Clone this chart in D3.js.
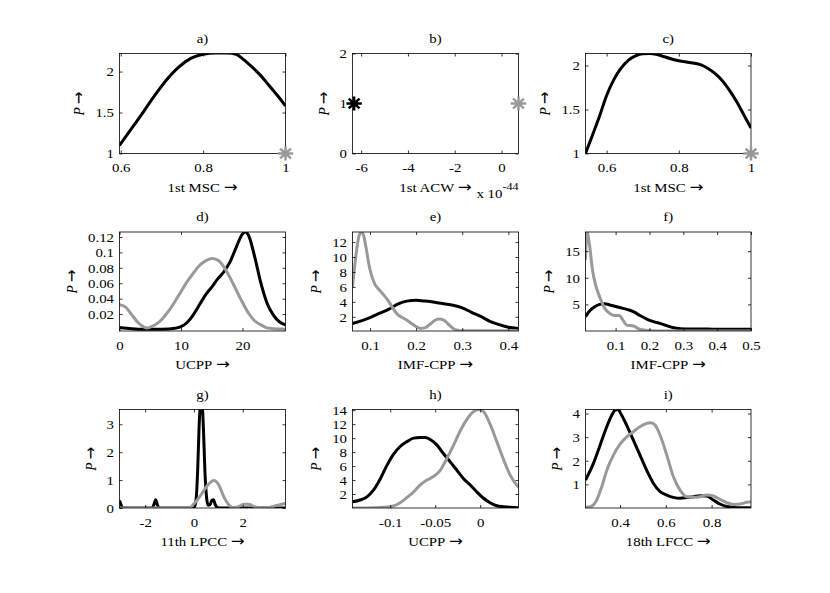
<!DOCTYPE html>
<html>
<head>
<meta charset="utf-8">
<script src="https://cdn.jsdelivr.net/npm/d3@7"></script>
<style>
  body { margin: 0; background: #fff; }
  svg { display: block; font-family: "Liberation Serif", "Times New Roman", serif; }
</style>
</head>
<body>
<svg id="chart" width="830" height="593"></svg>
<script>
// ---- data ----
const titles = ["a)", "b)", "c)", "d)", "e)", "f)", "g)", "h)", "i)"];
const xLabels = ["1st MSC", "1st ACW", "1st MSC", "UCPP", "IMF-CPP", "IMF-CPP", "11th LPCC", "UCPP", "18th LFCC"];

const xDomains = [[0.597, 1], [-6.37, 0.727], [0.5415, 1], [0, 27], [0.062, 0.422],
                  [0.011, 0.5], [-3.05, 3.75], [-0.142, 0.0426], [0.249, 0.972]];
const yDomains = [[1, 2.22], [0, 2], [1, 2.137], [-0.002, 0.1265], [0.1, 13.35],
                  [0, 18.6], [0, 3.53], [0, 14.1], [0, 4.17]];

const xTicks = [[0.6, 0.8, 1], [-6, -4, -2, 0], [0.6, 0.8, 1], [0, 10, 20], [0.1, 0.2, 0.3, 0.4],
                [0.1, 0.2, 0.3, 0.4, 0.5], [-2, 0, 2], [-0.1, -0.05, 0], [0.4, 0.6, 0.8]];
const yTicks = [[1, 1.5, 2], [0, 1, 2], [1, 1.5, 2], [0.02, 0.04, 0.06, 0.08, 0.1, 0.12],
                [2, 4, 6, 8, 10, 12], [5, 10, 15], [0, 1, 2, 3], [2, 4, 6, 8, 10, 12, 14], [1, 2, 3, 4]];

const bExponent = "-44";

const aBlack = [[0.597, 1.10], [0.62, 1.26], [0.65, 1.47], [0.68, 1.69], [0.71, 1.89], [0.74, 2.05],
  [0.77, 2.16], [0.80, 2.21], [0.83, 2.225], [0.86, 2.225], [0.88, 2.21], [0.90, 2.14], [0.92, 2.05],
  [0.94, 1.95], [0.96, 1.83], [0.98, 1.71], [1.0, 1.58]];
const aStarGray = [[1, 1]];

const bStarBlack = [[-6.3, 1]];
const bStarGray = [[0.727, 1]];

const cBlack = [[0.5415, 1.0], [0.56, 1.2], [0.58, 1.42], [0.60, 1.66], [0.62, 1.84], [0.64, 1.97],
  [0.66, 2.06], [0.68, 2.11], [0.70, 2.135], [0.72, 2.137], [0.74, 2.125], [0.76, 2.10], [0.78, 2.075],
  [0.80, 2.055], [0.83, 2.035], [0.86, 2.01], [0.88, 1.97], [0.90, 1.91], [0.92, 1.83], [0.94, 1.72],
  [0.96, 1.59], [0.98, 1.44], [1.0, 1.29]];
const cStarGray = [[1, 1]];

const dBlack = [[0, 0.0025], [2, 0.001], [4, 0.0003], [8, 0.0005], [9, 0.0015], [10, 0.0036], [11, 0.009],
  [12, 0.019], [13, 0.032], [14, 0.045], [15, 0.055], [16, 0.066], [17, 0.075], [18, 0.088], [19, 0.107],
  [20, 0.124], [20.5, 0.1265], [21, 0.122], [22, 0.094], [23, 0.060], [24, 0.034], [25, 0.019],
  [26, 0.010], [27, 0.006]];
const dGray = [[0, 0.032], [1, 0.029], [2, 0.019], [3, 0.009], [4, 0.003], [4.5, 0.002], [5, 0.003],
  [6, 0.007], [7, 0.014], [8, 0.024], [9, 0.036], [10, 0.049], [11, 0.062], [12, 0.073], [13, 0.083],
  [14, 0.089], [15, 0.092], [16, 0.090], [17, 0.081], [18, 0.067], [19, 0.051], [20, 0.035], [21, 0.021],
  [22, 0.011], [23, 0.006], [24, 0.002], [25, 0.001], [26.5, 0.0005], [27, 0]];

const eBlack = [[0.062, 1.1], [0.1, 1.9], [0.12, 2.45], [0.14, 3.0], [0.16, 3.7], [0.18, 4.1], [0.2, 4.2],
  [0.22, 4.1], [0.24, 3.95], [0.26, 3.75], [0.28, 3.55], [0.3, 3.2], [0.32, 2.6], [0.34, 2.05],
  [0.36, 1.4], [0.38, 0.95], [0.40, 0.6], [0.422, 0.45]];
const eGray = [[0.062, 6.0], [0.07, 10.5], [0.076, 12.8], [0.081, 13.33], [0.086, 12.9], [0.09, 11.7],
  [0.1, 8.3], [0.11, 6.4], [0.12, 5.6], [0.13, 4.9], [0.14, 4.1], [0.15, 3.1], [0.16, 2.3], [0.17, 1.9],
  [0.18, 1.55], [0.19, 1.1], [0.2, 0.7], [0.21, 0.45], [0.22, 0.55], [0.23, 1.0], [0.24, 1.5], [0.25, 1.7],
  [0.26, 1.55], [0.27, 1.0], [0.28, 0.45], [0.29, 0.2], [0.3, 0.12], [0.422, 0.12]];

const fBlack = [[0.011, 2.7], [0.023, 3.75], [0.038, 4.56], [0.053, 5.0], [0.068, 5.1], [0.083, 4.9],
  [0.103, 4.56], [0.122, 4.25], [0.142, 3.9], [0.157, 3.5], [0.172, 2.9], [0.192, 2.25], [0.212, 1.75],
  [0.231, 1.44], [0.251, 1.0], [0.271, 0.62], [0.291, 0.44], [0.32, 0.37], [0.37, 0.37], [0.41, 0.31],
  [0.449, 0.31], [0.5, 0.31]];
const fGray = [[0.011, 13.4], [0.015, 18.6], [0.023, 16.1], [0.031, 11.75], [0.041, 8.6], [0.053, 6.4],
  [0.068, 4.25], [0.083, 3.3], [0.098, 2.9], [0.111, 2.9], [0.121, 2.1], [0.133, 1.1], [0.153, 0.94],
  [0.168, 0.4], [0.188, 0.12], [0.222, 0.02], [0.5, 0.02]];

const gBlack = [[-3.05, 0.27], [-3.0, 0.15], [-2.95, 0.04], [-2.9, 0], [-1.72, 0], [-1.64, 0.12],
  [-1.57, 0.3], [-1.5, 0.12], [-1.42, 0], [0.0, 0], [0.08, 0.25], [0.15, 1.3], [0.21, 2.9], [0.26, 3.6],
  [0.34, 3.6], [0.39, 2.8], [0.45, 1.3], [0.52, 0.35], [0.58, 0.1], [0.66, 0.12], [0.74, 0.28],
  [0.8, 0.3], [0.86, 0.15], [0.95, 0.02], [1.05, 0], [3.75, 0]];
const gGray = [[-3.05, 0], [-0.2, 0], [0, 0.15], [0.27, 0.45], [0.55, 0.81], [0.82, 0.99], [1.03, 0.81],
  [1.23, 0.39], [1.44, 0.1], [1.64, 0], [1.85, 0.06], [2.05, 0.13], [2.25, 0.13], [2.45, 0.06],
  [2.73, 0], [3.0, 0.01], [3.27, 0.06], [3.55, 0.13], [3.75, 0.16]];

const hBlack = [[-0.142, 0.9], [-0.1334, 1.14], [-0.126, 1.6], [-0.1185, 2.6], [-0.111, 4.2],
  [-0.1037, 6.1], [-0.0963, 7.7], [-0.089, 8.8], [-0.0815, 9.5], [-0.074, 10.0], [-0.0667, 10.1],
  [-0.061, 10.1], [-0.0556, 9.8], [-0.048, 9.0], [-0.041, 7.8], [-0.0333, 6.6], [-0.0259, 5.4],
  [-0.0185, 4.2], [-0.011, 3.3], [-0.0037, 2.3], [0.0037, 1.4], [0.011, 0.76], [0.0185, 0.33],
  [0.026, 0.19], [0.0333, 0.1], [0.0426, 0.05]];
const hGray = [[-0.142, 0], [-0.126, 0], [-0.1074, 0.1], [-0.0963, 0.3], [-0.089, 0.76], [-0.0815, 1.5],
  [-0.074, 2.3], [-0.0667, 3.3], [-0.0593, 4.0], [-0.052, 4.5], [-0.0444, 5.4], [-0.037, 7.1],
  [-0.0296, 9.0], [-0.022, 11.1], [-0.0148, 12.7], [-0.0074, 13.8], [-0.0019, 14.1], [0.0037, 13.8],
  [0.011, 12.0], [0.0185, 9.5], [0.026, 6.9], [0.0333, 4.7], [0.0426, 2.95]];

const iBlack = [[0.249, 1.18], [0.2836, 1.89], [0.3127, 2.66], [0.3418, 3.44], [0.3636, 3.93],
  [0.378, 4.14], [0.389, 4.17], [0.407, 3.93], [0.429, 3.5], [0.458, 2.87], [0.487, 2.24], [0.516, 1.6],
  [0.546, 1.04], [0.575, 0.69], [0.604, 0.55], [0.633, 0.45], [0.662, 0.41], [0.691, 0.44], [0.72, 0.48],
  [0.749, 0.52], [0.778, 0.51], [0.807, 0.34], [0.836, 0.17], [0.866, 0.06], [0.91, 0.01], [0.972, 0.01]];
const iGray = [[0.249, 0.03], [0.276, 0.08], [0.298, 0.34], [0.32, 0.9], [0.342, 1.6], [0.371, 2.24],
  [0.4, 2.7], [0.429, 3.01], [0.458, 3.23], [0.487, 3.44], [0.516, 3.58], [0.534, 3.61], [0.553, 3.51],
  [0.575, 3.08], [0.604, 2.24], [0.633, 1.32], [0.662, 0.76], [0.691, 0.48], [0.72, 0.45], [0.749, 0.48],
  [0.778, 0.55], [0.807, 0.51], [0.836, 0.37], [0.866, 0.23], [0.895, 0.15], [0.924, 0.17],
  [0.953, 0.24], [0.972, 0.27]];

const blackSeries = [aBlack, [], cBlack, dBlack, eBlack, fBlack, gBlack, hBlack, iBlack];
const graySeries = [[], [], [], dGray, eGray, fGray, gGray, hGray, iGray];
const blackStars = [[], bStarBlack, [], [], [], [], [], [], []];
const grayStars = [aStarGray, bStarGray, cStarGray, [], [], [], [], [], []];

// ---- layout ----
const colX = [[119.5, 285.5], [352.5, 518.5], [585.5, 751]];
const rowY = [[53.5, 153.5], [232, 331], [409.5, 508]];
const SX = 1.1;   // the reference glyphs are a little stretched horizontally
const FS = 13.5;
const BLACK = "#000", GRAY = "#999";
const ARROW = "\u2192";

const svg = d3.select("svg#chart");

function stext(parent, x, y, anchor) {
  return parent.append("text")
    .attr("transform", `translate(${x},${y}) scale(${SX},1)`)
    .attr("text-anchor", anchor)
    .attr("font-size", FS)
    .attr("fill", "#000");
}

function addArrow(t) {
  t.append("tspan").text(" ");
  t.append("tspan").attr("font-family", "DejaVu Sans").attr("font-size", 15).text(ARROW);
}

function starPath(r) {
  return [0, 45, 90, 135].map(deg => {
    const t = deg * Math.PI / 180;
    const dx = r * Math.cos(t) * SX, dy = r * Math.sin(t);
    return `M${-dx},${-dy}L${dx},${dy}`;
  }).join("");
}

titles.forEach((title, i) => {
  const [x0, x1] = colX[i % 3];
  const [y0, y1] = rowY[Math.floor(i / 3)];
  const x = d3.scaleLinear().domain(xDomains[i]).range([x0, x1]);
  const y = d3.scaleLinear().domain(yDomains[i]).range([y1, y0]);
  const g = svg.append("g");

  const clipId = "clip-" + i;
  g.append("clipPath").attr("id", clipId)
    .append("rect").attr("x", x0).attr("y", y0).attr("width", x1 - x0).attr("height", y1 - y0);

  const line = d3.line().x(d => x(d[0])).y(d => y(d[1])).curve(d3.curveMonotoneX);
  const curves = g.append("g").attr("clip-path", `url(#${clipId})`);
  [[blackSeries[i], BLACK], [graySeries[i], GRAY]].forEach(([data, c]) => {
    if (!data.length) return;
    curves.append("path")
      .attr("d", line(data))
      .attr("fill", "none")
      .attr("stroke", c)
      .attr("stroke-width", 3)
      .attr("stroke-linejoin", "round");
  });

  const fmt = v => String(v);
  const bottom = g.append("g").attr("transform", `translate(0,${y1})`)
    .call(d3.axisBottom(x).tickValues(xTicks[i]).tickFormat(fmt).tickSizeInner(-3).tickSizeOuter(0).tickPadding(9));
  g.append("g").attr("transform", `translate(0,${y0})`)
    .call(d3.axisTop(x).tickValues(xTicks[i]).tickFormat("").tickSizeInner(-3).tickSizeOuter(0));
  const left = g.append("g").attr("transform", `translate(${x0},0)`)
    .call(d3.axisLeft(y).tickValues(yTicks[i]).tickFormat(fmt).tickSizeInner(-3).tickSizeOuter(0).tickPadding(5.5));
  g.append("g").attr("transform", `translate(${x1},0)`)
    .call(d3.axisRight(y).tickValues(yTicks[i]).tickFormat("").tickSizeInner(-3).tickSizeOuter(0));

  g.selectAll(".domain").remove();
  g.selectAll("g").attr("font-family", null).attr("font-size", FS);
  g.selectAll(".tick line").attr("stroke", "#000").attr("stroke-width", 0.8);
  g.selectAll(".tick text").attr("fill", "#000");
  bottom.selectAll(".tick text").attr("transform", `scale(${SX},1)`);
  left.selectAll(".tick text").attr("x", -5.5 / SX).attr("transform", `scale(${SX},1)`);

  g.append("rect")
    .attr("x", x0).attr("y", y0).attr("width", x1 - x0).attr("height", y1 - y0)
    .attr("fill", "none").attr("stroke", "#000").attr("stroke-width", 0.8);

  // title and axis labels
  stext(g, (x0 + x1) / 2, y0 - 11, "middle").text(title);
  const xl = stext(g, (x0 + x1) / 2, y1 + 38, "middle");
  xl.append("tspan").text(xLabels[i]);
  addArrow(xl);

  const lb = left.node().getBBox();
  const yl = g.append("text")
    .attr("transform", `translate(${x0 + lb.x - 11},${(y0 + y1) / 2}) rotate(-90) scale(1,${SX})`)
    .attr("text-anchor", "middle")
    .attr("font-size", FS)
    .attr("fill", "#000");
  yl.append("tspan").attr("font-style", "italic").text("P");
  addArrow(yl);

  if (i === 1) {
    const ex = stext(g, x1, y1 + 44.5, "end");
    ex.append("tspan").text("x 10");
    ex.append("tspan").attr("dy", -8).attr("font-size", 11).text(bExponent);
  }

  // asterisk markers
  [[blackStars[i], BLACK], [grayStars[i], GRAY]].forEach(([pts, c]) => {
    g.selectAll(null).data(pts).enter().append("path")
      .attr("d", starPath(7))
      .attr("transform", d => `translate(${x(d[0])},${y(d[1])})`)
      .attr("fill", "none")
      .attr("stroke", c)
      .attr("stroke-width", 2.5)
      .attr("stroke-linecap", "butt");
  });
});
</script>
</body>
</html>
